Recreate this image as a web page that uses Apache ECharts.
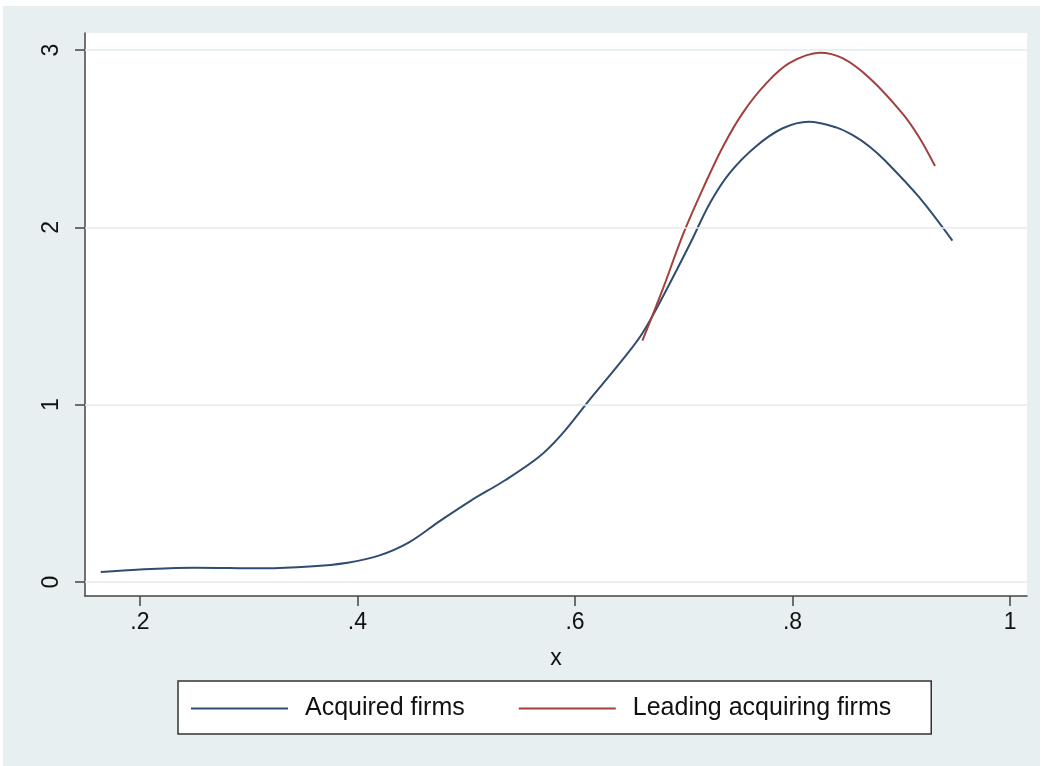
<!DOCTYPE html>
<html>
<head>
<meta charset="utf-8">
<script src="https://cdn.jsdelivr.net/npm/echarts@6/dist/echarts.min.js"></script>
<style>
html,body{margin:0;padding:0;background:#ffffff;}
#chart{width:1045px;height:766px;}
</style>
</head>
<body>
<div id="chart"></div>
<script>
// Data
const acquiredX = [0.164, 0.200, 0.250, 0.314, 0.356, 0.391, 0.419, 0.447, 0.476, 0.504, 0.535, 0.567, 0.588, 0.615, 0.641, 0.662, 0.684, 0.706, 0.724, 0.742, 0.766, 0.791, 0.815, 0.840, 0.855, 0.871, 0.886, 0.916, 0.947];
const acquiredY = [0.056, 0.070, 0.081, 0.077, 0.087, 0.109, 0.147, 0.222, 0.345, 0.458, 0.571, 0.706, 0.834, 1.040, 1.233, 1.403, 1.647, 1.910, 2.136, 2.305, 2.455, 2.559, 2.596, 2.564, 2.521, 2.455, 2.371, 2.173, 1.925];
const leadingX = [0.662, 0.680, 0.700, 0.720, 0.736, 0.754, 0.776, 0.797, 0.825, 0.846, 0.871, 0.901, 0.916, 0.931];
const leadingY = [1.361, 1.640, 1.970, 2.250, 2.455, 2.643, 2.813, 2.926, 2.985, 2.954, 2.841, 2.643, 2.512, 2.346];
const xTicks = [0.2, 0.4, 0.6, 0.8, 1];
const yTicks = [0, 1, 2, 3];
const seriesNames = ['Acquired firms', 'Leading acquiring firms'];
const xTitle = 'x';

const FONT = '"Liberation Sans", Arial, Helvetica, sans-serif';
const pairs = (xs, ys) => xs.map((x, i) => [x, ys[i]]);
const fmtX = v => (Math.abs(v - 1) < 1e-9 ? '1' : String(v).replace(/^0/, ''));

const chart = echarts.init(document.getElementById('chart'), null, {renderer: 'canvas'});
chart.setOption({
  animation: false,
  backgroundColor: '#ffffff',
  graphic: [{
    type: 'rect', silent: true, z: -100,
    shape: {x: 3, y: 6, width: 1037, height: 760},
    style: {fill: '#e8eff1'}
  }],
  grid: {
    left: 85, top: 33, width: 942, height: 563,
    show: true, backgroundColor: '#ffffff', borderWidth: 0
  },
  xAxis: {
    type: 'value', min: 0.1495, max: 1.0156,
    name: xTitle, nameLocation: 'middle', nameGap: 51,
    nameTextStyle: {fontSize: 23, fontFamily: FONT, color: '#111'},
    axisLine: {show: true, onZero: false, lineStyle: {color: '#444', width: 1.5}},
    axisTick: {show: true, length: 10, customValues: xTicks, lineStyle: {color: '#444', width: 1.5}},
    axisLabel: {customValues: xTicks, formatter: fmtX, fontSize: 23, fontFamily: FONT, color: '#111', margin: 15},
    splitLine: {show: false}
  },
  yAxis: {
    type: 'value', min: -0.079, max: 3.096,
    axisLine: {show: true, onZero: false, lineStyle: {color: '#444', width: 1.5}},
    axisTick: {show: true, length: 10, customValues: yTicks, lineStyle: {color: '#444', width: 1.5}},
    axisLabel: {customValues: yTicks, rotate: 90, fontSize: 23, fontFamily: FONT, color: '#111', margin: 22, formatter: v => String(v)},
    splitLine: {show: false}
  },
  legend: {
    left: 178, top: 681,
    padding: [15, 40, 13, 13],
    icon: 'rect', itemWidth: 97, itemHeight: 2, itemGap: 54,
    backgroundColor: '#ffffff', borderColor: '#333', borderWidth: 1.5,
    textStyle: {fontSize: 25, fontFamily: FONT, color: '#111', padding: [0, 0, 0, 12]},
    data: seriesNames
  },
  series: [
    {
      name: seriesNames[0], type: 'line', data: pairs(acquiredX, acquiredY),
      smooth: 0.35, showSymbol: false, symbol: 'none',
      lineStyle: {color: '#2f4d70', width: 2}, itemStyle: {color: '#2f4d70'},
      markLine: {
        silent: true, symbol: 'none', label: {show: false},
        lineStyle: {color: '#e2ebee', width: 1.5, type: 'solid'},
        data: yTicks.map(v => ({yAxis: v}))
      },
      z: 3
    },
    {
      name: seriesNames[1], type: 'line', data: pairs(leadingX, leadingY),
      smooth: 0.35, showSymbol: false, symbol: 'none',
      lineStyle: {color: '#a2403d', width: 2}, itemStyle: {color: '#a2403d'},
      z: 4
    }
  ]
});
</script>
</body>
</html>
